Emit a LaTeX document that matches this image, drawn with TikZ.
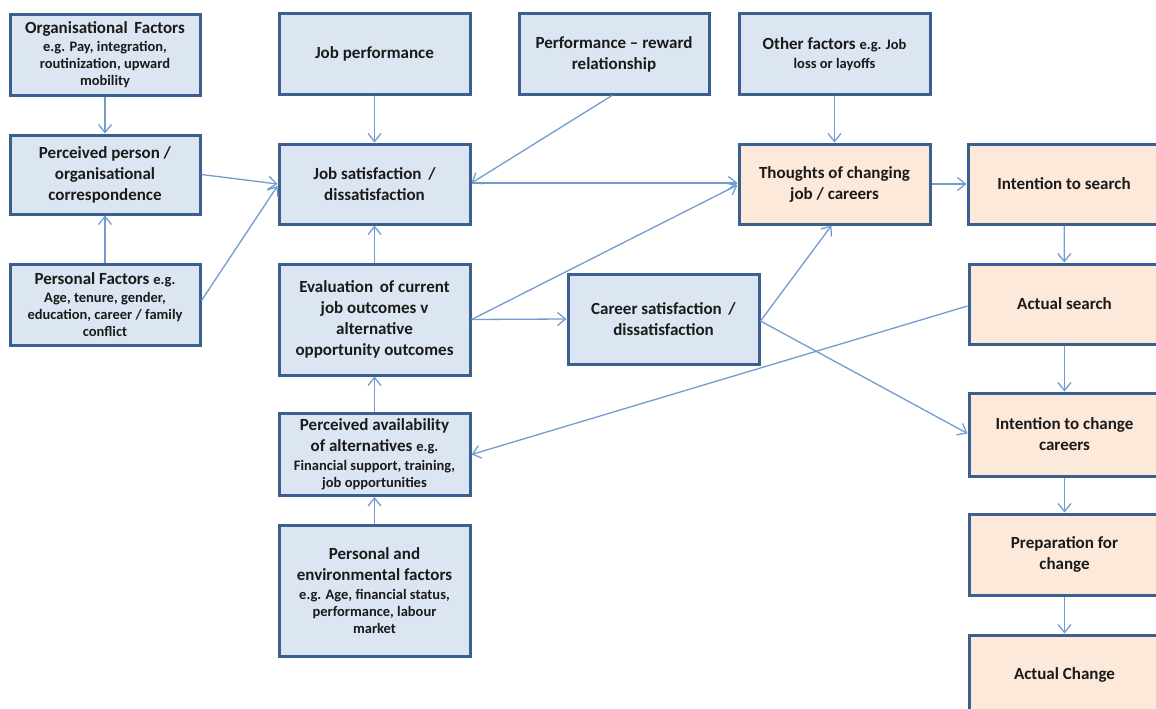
\documentclass[tikz,border=0pt]{standalone}
\usepackage{fontspec}
\setmainfont{Carlito}
\usetikzlibrary{arrows.meta}

\definecolor{boxline}{HTML}{3B5F8E}
\definecolor{bluefill}{HTML}{DCE6F2}
\definecolor{peachfill}{HTML}{FDE9D9}
\definecolor{linkcol}{HTML}{729CCF}
\definecolor{ink}{HTML}{1A1A1A}

\newcommand{\mainsize}{\fontsize{17}{21}\selectfont}
\newcommand{\detailsize}{\fontsize{14.5}{17}\selectfont}

\begin{document}
\begin{tikzpicture}[x=1pt,y=-1pt,
  box/.style={draw=boxline, line width=3pt, fill=bluefill,
    minimum width=191pt, minimum height=80pt, align=center,
    text=ink, font=\mainsize\bfseries, inner sep=2pt},
  stage/.style={box, fill=peachfill},
  link/.style={draw=linkcol, line width=1.3pt,
    -{Straight Barb[length=8pt,width=13pt,line width=1.3pt]}}]

\useasboundingbox (0,0) rectangle (1156,709);
\clip (0,0) rectangle (1156,709);

% left column
\node[box, minimum width=190pt] (org) at (105,55)
  {Organisational\, Factors\\[-3pt]\detailsize e.g. Pay, integration,\\[-4pt]\detailsize routinization, upward\\[-4pt]\detailsize mobility};
\node[box, minimum width=190pt, minimum height=79pt] (ppo) at (105,174.5)
  {Perceived person /\\organisational\\correspondence};
\node[box, minimum width=190pt, minimum height=81pt] (pf) at (105,304.5)
  {Personal Factors {\detailsize e.g.}\\[-3pt]\detailsize Age, tenure, gender,\\[-4pt]\detailsize education, career / family\\[-4pt]\detailsize conflict};

% middle column
\node[box] (jp) at (374.5,54) {Job performance};
\node[box] (js) at (374.5,184) {Job satisfaction\, /\\dissatisfaction};
\node[box, minimum height=111pt] (ev) at (374.5,319.5)
  {Evaluation\, of current\\job outcomes v\\alternative\\opportunity outcomes};
\node[box, minimum height=82pt] (pa) at (374.5,454.5)
  {Perceived availability\\of alternatives {\detailsize e.g.}\\[-2pt]\detailsize Financial support, training,\\[-4pt]\detailsize job opportunities};
\node[box, minimum height=131pt] (pe) at (374.5,590.5)
  {Personal and\\environmental factors\\[-2pt]\detailsize e.g. Age, financial status,\\[-4pt]\detailsize performance, labour\\[-4pt]\detailsize market};

\node[box, minimum width=190pt] (pr) at (614,54) {Performance -- reward\\relationship};
\node[box, minimum height=90pt] (cs) at (663.5,319) {Career satisfaction\, /\\dissatisfaction};

\node[box] (of) at (834.5,54) {Other factors {\detailsize e.g. Job}\\[-2pt]\detailsize loss or layoffs};
\node[stage] (th) at (834.5,184) {Thoughts of changing\\job / careers};

% right column (stages of change)
\node[stage, minimum width=192pt] (is) at (1064,184) {Intention to search};
\node[stage] (as) at (1064.5,304) {Actual search};
\node[stage, minimum height=83pt] (ic) at (1064.5,434.5) {Intention to change\\careers};
\node[stage, minimum height=81pt] (pc) at (1064.5,554.5) {Preparation for\\change};
\node[stage] (ac) at (1064.5,675) {Actual Change};

% connectors
\draw[link] (org) -- (ppo);
\draw[link] (pf) -- (ppo);
\draw[link] (ppo.east) -- (js.west);
\draw[link] ([yshift=4pt]pf.east) -- ([yshift=-2pt]js.west);
\draw[link] (jp) -- (js);
\draw[link] ([xshift=-2pt]pr.south) -- ([yshift=1pt]js.east);
\draw[link] ([yshift=1pt]js.east) -- ([yshift=1pt]th.west);
\draw[link] (ev) -- (js);
\draw[link] (ev.east) -- ([yshift=-1pt]th.west);
\draw[link] (ev.east) -- (cs.west);
\draw[link] (pa) -- (ev);
\draw[link] (pe) -- (pa);
\draw[link] ([yshift=-2pt]cs.east) -- ([xshift=-3pt]th.south);
\draw[link] ([yshift=-2pt]cs.east) -- ([yshift=1pt]ic.west);
\draw[link] ([yshift=-2pt]as.west) -- (pa.east);
\draw[link] (of) -- (th);
\draw[link] (th) -- (is);
\draw[link] (is) -- (as);
\draw[link] (as) -- (ic);
\draw[link] (ic) -- (pc);
\draw[link] (pc) -- (ac);
\end{tikzpicture}
\end{document}
